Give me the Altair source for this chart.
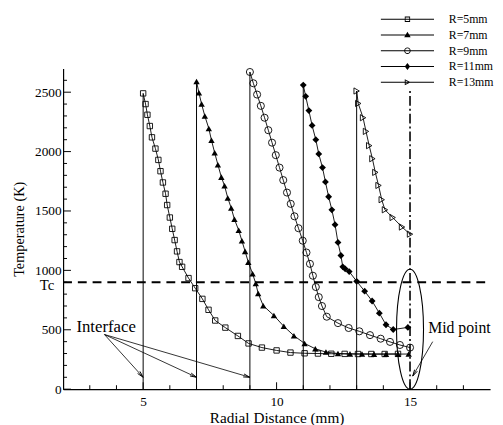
import math
import altair as alt
import pandas as pd

# ---------------- data ----------------
series_names = ["R=5mm", "R=7mm", "R=9mm", "R=11mm", "R=13mm"]

r5_x = [5.00, 5.09, 5.16, 5.25, 5.33, 5.46, 5.57, 5.65, 5.74, 5.84, 5.90, 6.00, 6.09, 6.18,
        6.27, 6.36, 6.46, 6.70, 6.95, 7.22, 7.45, 7.70, 8.08, 8.55, 8.95, 9.45, 10.00, 10.52,
        11.05, 11.55, 12.05, 12.55, 13.05, 13.55, 14.05, 14.55]
r5_t = [2490, 2400, 2310, 2215, 2120, 2025, 1930, 1835, 1740, 1645, 1550, 1445, 1350, 1255,
        1160, 1070, 1030, 935, 850, 760, 668, 578, 518, 448, 385, 350, 326, 308,
        302, 300, 298, 297, 296, 296, 296, 297]

r7_x = [7.00, 7.09, 7.19, 7.31, 7.46, 7.56, 7.68, 7.80, 7.93, 8.05, 8.17, 8.30, 8.42, 8.58,
        8.70, 8.82, 8.94, 9.10, 9.22, 9.31, 9.50, 9.90, 10.27, 10.65, 11.05, 11.45, 11.85,
        12.30, 12.75, 13.20, 13.65, 14.10, 14.55, 14.95]
r7_t = [2590, 2495, 2400, 2300, 2195, 2095, 1990, 1890, 1785, 1712, 1610, 1525, 1430, 1338,
        1250, 1160, 1069, 972, 889, 806, 703, 620, 529, 450, 385, 340, 312,
        300, 297, 296, 295, 295, 295, 296]

r9_x = [9.00, 9.13, 9.27, 9.41, 9.55, 9.69, 9.83, 9.97, 10.11, 10.25, 10.39, 10.53, 10.67,
        10.82, 10.98, 11.12, 11.25, 11.36, 11.47, 11.58, 11.70, 11.88, 12.30, 12.70, 13.10,
        13.50, 13.90, 14.25, 14.62, 15.00]
r9_t = [2670, 2575, 2480, 2385, 2285, 2180, 2075, 1970, 1865, 1760, 1655, 1560, 1455,
        1355, 1250, 1150, 1055, 955, 860, 775, 700, 610, 556, 515, 487,
        455, 425, 398, 372, 350]

r11_x = [11.00, 11.09, 11.21, 11.33, 11.47, 11.58, 11.72, 11.83, 11.95, 12.07, 12.19, 12.30,
         12.41, 12.48, 12.57, 12.72, 13.00, 13.30, 13.58, 13.85, 14.10, 14.37, 14.92]
r11_t = [2560, 2465, 2345, 2220, 2100, 1980, 1865, 1745, 1620, 1510, 1385, 1235,
         1125, 1030, 1013, 990, 908, 825, 742, 640, 542, 502, 520]

r13_x = [13.00, 13.06, 13.24, 13.35, 13.47, 13.59, 13.70, 13.82, 13.94, 14.06, 14.35, 14.70, 15.00]
r13_t = [2510, 2405, 2285, 2170, 2050, 1940, 1825, 1715, 1595, 1510, 1445, 1365, 1305]

series_x = [r5_x, r7_x, r9_x, r11_x, r13_x]
series_t = [r5_t, r7_t, r9_t, r11_t, r13_t]

interface_x = [5, 7, 9, 11, 13]
interface_top = [2490, 2590, 2670, 2560, 2510]
mid_x = [15]
mid_top = [2510]
tc_value = [900]
x_domain = [2, 18]
y_domain = [0, 2700]

x_major_ticks = [5, 10, 15]
x_minor_ticks = [3, 4, 6, 7, 8, 9, 11, 12, 13, 14, 16, 17]
y_major_ticks = [0, 500, 1000, 1500, 2000, 2500]
y_minor_ticks = [100, 200, 300, 400, 600, 700, 800, 900, 1100, 1200, 1300, 1400, 1600, 1700,
                 1800, 1900, 2100, 2200, 2300, 2400, 2600]

interface_text = ["Interface"]
interface_text_x = [2.5]
interface_text_t = [520]
interface_arrow_from_x = [3.55, 3.55, 3.55]
interface_arrow_from_t = [460, 460, 460]
interface_arrow_to_x = [5, 7, 9]
interface_arrow_to_t = [100, 100, 100]

mid_text = ["Mid point"]
mid_text_x = [15.68]
mid_text_t = [513]
mid_arrow_from_x = [15.85]
mid_arrow_from_t = [400]
mid_arrow_to_x = [15.1]
mid_arrow_to_t = [110]

ellipse_x = [15]
ellipse_t = [505]

tc_text = ["Tc"]

# ---------------- styles ----------------
W, H = 434, 326
SERIF = "Liberation Serif, Times New Roman, DejaVu Serif, serif"
marker_styles = [
    dict(shape="square", size=30, filled=False),
    dict(shape="triangle-up", size=42, filled=True),
    dict(shape="circle", size=52, filled=False),
    dict(shape="diamond", size=48, filled=True),
    dict(shape="triangle-right", size=40, filled=False),
]

line_rect = "M-9,-0.17 L9,-0.17 L9,0.17 L-9,0.17 Z "
legend_paths = [
    line_rect + "M-0.9,-0.9 L0.9,-0.9 L0.9,0.9 L-0.9,0.9 Z M-0.62,-0.62 L-0.62,0.62 L0.62,0.62 L0.62,-0.62 Z",
    line_rect + "M0,-1.1 L1.1,0.8 L-1.1,0.8 Z",
    line_rect + "M1.1,0 A1.1,1.1 0 1,1 -1.1,0 A1.1,1.1 0 1,1 1.1,0 Z M0.8,0 A0.8,0.8 0 1,0 -0.8,0 A0.8,0.8 0 1,0 0.8,0 Z",
    line_rect + "M0,-1.2 L0.9,0 L0,1.2 L-0.9,0 Z",
    line_rect + "M-0.9,-1 L1.1,0 L-0.9,1 Z M-0.6,-0.55 L-0.6,0.55 L0.5,0 Z",
]
arrow_head_path = "M-0.45,1.9 L0,0 L0.45,1.9"
ellipse_path = "M0,-1 A0.225,1 0 1,1 0,1 A0.225,1 0 1,1 0,-1 Z"

sx = W / (x_domain[1] - x_domain[0])
sy = H / (y_domain[1] - y_domain[0])

xscale = alt.Scale(domain=x_domain, nice=False, zero=False)
yscale = alt.Scale(domain=y_domain, nice=False, zero=False)
xaxis = alt.Axis(values=x_major_ticks, format="d", title="Radial Distance (mm)", ticks=False,
                 grid=False, domainColor="black", domainWidth=1.2, labelFont=SERIF,
                 labelFontSize=13.5, labelColor="black", labelPadding=6, titleFont=SERIF,
                 titleFontSize=15.5, titleFontWeight="normal", titleColor="black",
                 titlePadding=2, labelFlush=False)
yaxis = alt.Axis(values=y_major_ticks, format="d", title="Temperature (K)", ticks=False,
                 grid=False, domainColor="black", domainWidth=1.2, labelFont=SERIF,
                 labelFontSize=13.5, labelColor="black", labelPadding=2, titleFont=SERIF,
                 titleFontSize=14.5, titleFontWeight="normal", titleColor="black",
                 titlePadding=8)


def X(field="x"):
    return alt.X(f"{field}:Q", scale=xscale, axis=xaxis)


def Y(field="t"):
    return alt.Y(f"{field}:Q", scale=yscale, axis=yaxis)


# ---------------- tables ----------------
rows = []
for name, xs, ts in zip(series_names, series_x, series_t):
    for i, (xv, tv) in enumerate(zip(xs, ts)):
        rows.append({"series": name, "x": xv, "t": tv, "order": i})
df = pd.DataFrame(rows)

layers = []

# Tc dashed line
tc_df = pd.DataFrame({"x": [x_domain[0]], "x2": [x_domain[1]], "t": tc_value})
layers.append(alt.Chart(tc_df).mark_rule(color="black", strokeWidth=2, strokeDash=[9, 6])
              .encode(x=X(), x2="x2:Q", y=Y()))

# interface vertical lines
if_df = pd.DataFrame({"x": interface_x, "t": [0] * len(interface_x), "t2": interface_top})
layers.append(alt.Chart(if_df).mark_rule(color="black", strokeWidth=1)
              .encode(x=X(), y=Y(), y2="t2:Q"))

# mid point dash-dot line
mid_df = pd.DataFrame({"x": mid_x, "t": [0], "t2": mid_top})
layers.append(alt.Chart(mid_df).mark_rule(color="black", strokeWidth=1.6, strokeDash=[10, 3, 2, 3])
              .encode(x=X(), y=Y(), y2="t2:Q"))

# series lines
layers.append(alt.Chart(df).mark_line(color="black", strokeWidth=0.9)
              .encode(x=X(), y=Y(), detail="series:N", order="order:Q"))

# series markers
for name, st in zip(series_names, marker_styles):
    sdf = df[df["series"] == name]
    if st["filled"]:
        mk = alt.Chart(sdf).mark_point(shape=st["shape"], size=st["size"], filled=True,
                                       color="black", opacity=1)
    else:
        mk = alt.Chart(sdf).mark_point(shape=st["shape"], size=st["size"], filled=False,
                                       color="black", strokeWidth=0.9, opacity=1)
    layers.append(mk.encode(x=X(), y=Y()))

# legend (invisible points carrying the shape legend)
leg_df = pd.DataFrame({"series": series_names, "x": [s[0] for s in series_x],
                       "t": [s[0] for s in series_t]})
layers.append(alt.Chart(leg_df).mark_point(filled=True, color="black", opacity=0)
              .encode(x=X(), y=Y(),
                      shape=alt.Shape("series:N",
                                      scale=alt.Scale(domain=series_names, range=legend_paths),
                                      legend=alt.Legend(title=None, orient="none", legendX=344,
                                                        legendY=-56, labelFont=SERIF,
                                                        labelFontSize=12, labelColor="black",
                                                        symbolSize=36, symbolStrokeWidth=0,
                                                        symbolFillColor="black",
                                                        symbolOpacity=1, labelOffset=36,
                                                        rowPadding=4, padding=0,
                                                        labelLimit=200))))

# inward ticks
layers.append(alt.Chart(pd.DataFrame({"t": y_major_ticks})).mark_rule(color="black", strokeWidth=1)
              .encode(y=Y(), x=alt.value(0), x2=alt.value(8)))
layers.append(alt.Chart(pd.DataFrame({"t": y_minor_ticks})).mark_rule(color="black", strokeWidth=1)
              .encode(y=Y(), x=alt.value(0), x2=alt.value(4)))
layers.append(alt.Chart(pd.DataFrame({"x": x_major_ticks})).mark_rule(color="black", strokeWidth=1)
              .encode(x=X(), y=alt.value(H), y2=alt.value(H - 7)))
layers.append(alt.Chart(pd.DataFrame({"x": x_minor_ticks})).mark_rule(color="black", strokeWidth=1)
              .encode(x=X(), y=alt.value(H), y2=alt.value(H - 4)))

# Tc label
layers.append(alt.Chart(pd.DataFrame({"x": [x_domain[0]], "t": tc_value, "label": tc_text}))
              .mark_text(font=SERIF, fontSize=15, align="right", baseline="middle", dx=-9,
                         dy=3, color="black")
              .encode(x=X(), y=Y(), text="label:N"))

# annotation texts
ann_df = pd.DataFrame({"x": interface_text_x, "t": interface_text_t, "label": interface_text})
layers.append(alt.Chart(ann_df).mark_text(font=SERIF, fontSize=17, align="left",
                                          baseline="middle", color="black")
              .encode(x=X(), y=Y(), text="label:N"))
mid_df_txt = pd.DataFrame({"x": mid_text_x, "t": mid_text_t, "label": mid_text})
layers.append(alt.Chart(mid_df_txt).mark_text(font=SERIF, fontSize=16, align="left",
                                              baseline="middle", color="black")
              .encode(x=X(), y=Y(), text="label:N"))

# arrows
ax1 = interface_arrow_from_x + mid_arrow_from_x
at1 = interface_arrow_from_t + mid_arrow_from_t
ax2 = interface_arrow_to_x + mid_arrow_to_x
at2 = interface_arrow_to_t + mid_arrow_to_t
angles = []
for a, b, c, d in zip(ax1, at1, ax2, at2):
    dxp = (c - a) * sx
    dyp = -(d - b) * sy
    angles.append(math.degrees(math.atan2(dxp, -dyp)) % 360)
arr_df = pd.DataFrame({"x": ax1, "t": at1, "x2": ax2, "t2": at2})
layers.append(alt.Chart(arr_df).mark_rule(color="black", strokeWidth=0.8)
              .encode(x=X(), y=Y(), x2="x2:Q", y2="t2:Q"))
head_df = pd.DataFrame({"x": ax2, "t": at2, "ang": angles})
layers.append(alt.Chart(head_df).mark_point(shape=arrow_head_path, size=49, filled=False,
                                            color="black", strokeWidth=0.9, opacity=1)
              .encode(x=X(), y=Y(), angle=alt.Angle("ang:Q", scale=None)))

# ellipse around mid point
half_px = ellipse_t[0] * sy
ell_df = pd.DataFrame({"x": ellipse_x, "t": ellipse_t})
layers.append(alt.Chart(ell_df).mark_point(shape=ellipse_path, size=(2 * half_px) ** 2,
                                           filled=False, color="black", strokeWidth=1.1,
                                           opacity=1)
              .encode(x=X(), y=Y()))

chart = (alt.layer(*layers)
         .properties(width=W, height=H,
                     padding={"left": 56, "top": 58, "right": 5, "bottom": 33},
                     autosize=alt.AutoSizeParams(type="none"),
                     background="white")
         .configure_view(stroke=None))

chart.save("out.html", embed_options={"renderer": "svg", "actions": False})
